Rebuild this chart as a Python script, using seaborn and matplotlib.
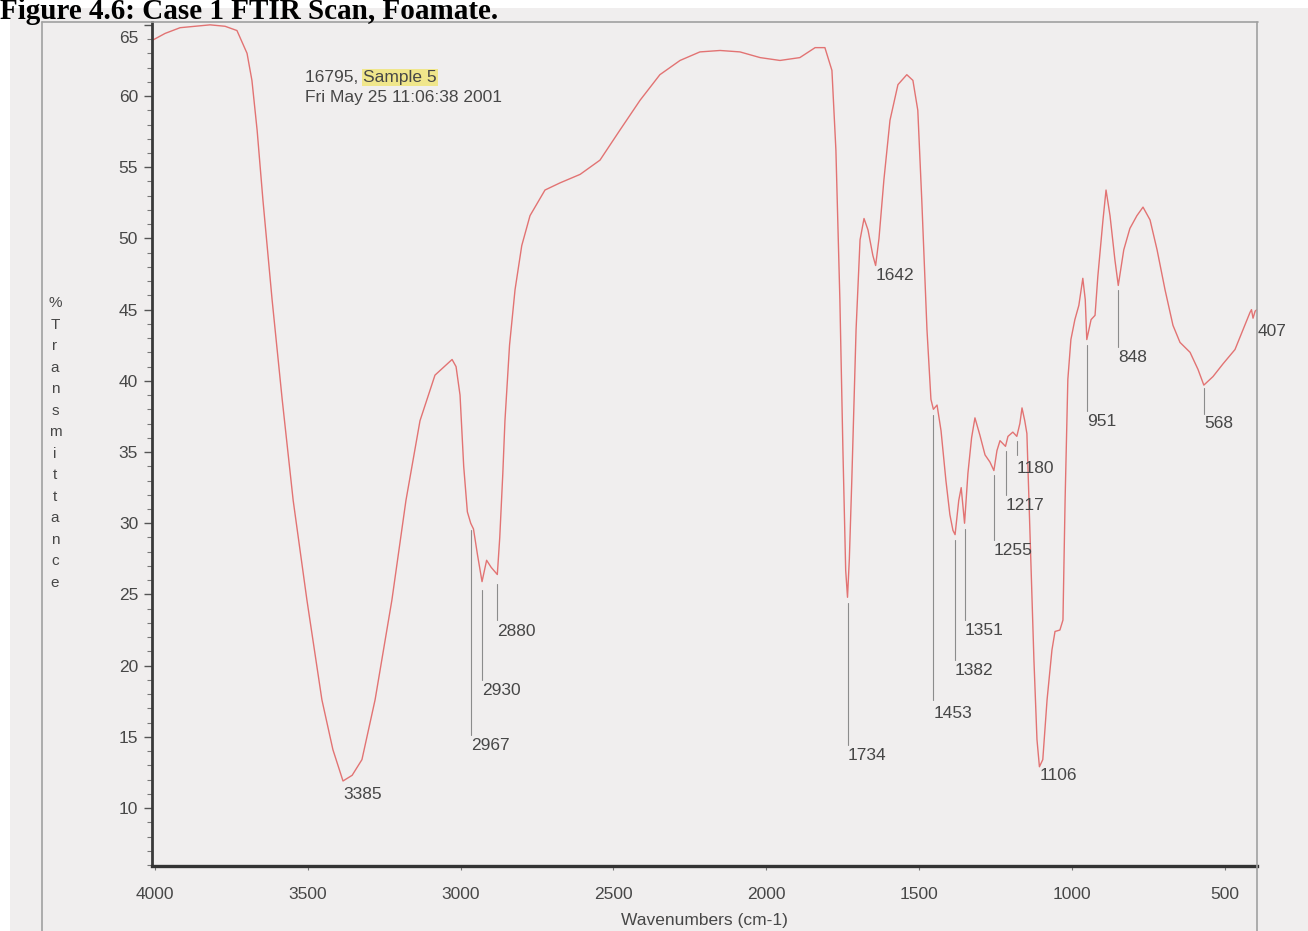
import matplotlib
matplotlib.use("Agg")
import matplotlib.pyplot as plt
from matplotlib.lines import Line2D
from matplotlib.patches import Rectangle
from matplotlib.ticker import MultipleLocator, FixedLocator
from matplotlib.transforms import ScaledTranslation
import seaborn as sns
import pandas as pd

# ---------------- data ----------------
wavenumber = [4010, 3967, 3918, 3869, 3820, 3771, 3732, 3699, 3683, 3666,
              3647, 3617, 3584, 3548, 3503, 3454, 3418, 3385, 3355, 3323,
              3280, 3225, 3179, 3133, 3084, 3028, 3015, 3002, 2990, 2978,
              2967, 2958, 2945, 2930, 2915, 2900, 2880, 2872, 2862, 2855,
              2840, 2822, 2800, 2773, 2724, 2675, 2609, 2544, 2479, 2413,
              2348, 2282, 2217, 2151, 2086, 2020, 1955, 1890, 1840, 1808,
              1785, 1772, 1759, 1749, 1740, 1734, 1728, 1720, 1706, 1693,
              1680, 1667, 1651, 1642, 1631, 1615, 1595, 1569, 1540, 1520,
              1504, 1491, 1474, 1461, 1453, 1441, 1428, 1412, 1399, 1389,
              1382, 1370, 1362, 1351, 1340, 1328, 1317, 1301, 1284, 1268,
              1255, 1245, 1235, 1217, 1209, 1193, 1180, 1170, 1163, 1154,
              1147, 1137, 1124, 1114, 1106, 1095, 1081, 1065, 1055, 1039,
              1029, 1022, 1013, 1003, 990, 977, 964, 956, 951, 937,
              924, 915, 898, 888, 875, 859, 848, 830, 810, 787,
              767, 744, 721, 695, 669, 646, 613, 587, 568, 538,
              505, 466, 434, 417, 412, 407, 400, 394]
transmittance = [63.9, 64.4, 64.8, 64.9, 65.0, 64.9, 64.6, 63.0, 61.1, 57.6,
                 52.7, 45.7, 38.7, 31.6, 24.6, 17.6, 14.1, 11.9, 12.3, 13.4,
                 17.6, 24.6, 31.6, 37.2, 40.4, 41.5, 41.0, 39.0, 34.0, 30.8,
                 30.0, 29.6, 27.8, 25.9, 27.4, 26.9, 26.4, 29.0, 33.5, 37.2,
                 42.5, 46.4, 49.5, 51.6, 53.4, 53.9, 54.5, 55.5, 57.6, 59.7,
                 61.5, 62.5, 63.1, 63.2, 63.1, 62.7, 62.5, 62.7, 63.4, 63.4,
                 61.8, 56.2, 45.7, 35.1, 26.7, 24.8, 27.5, 33.0, 43.6, 49.9,
                 51.4, 50.6, 48.8, 48.1, 50.0, 54.1, 58.3, 60.8, 61.5, 61.1,
                 59.0, 52.7, 43.6, 38.7, 38.0, 38.3, 36.5, 33.0, 30.6, 29.5,
                 29.2, 31.6, 32.5, 30.0, 33.5, 36.0, 37.4, 36.2, 34.8, 34.3,
                 33.7, 35.1, 35.8, 35.4, 36.1, 36.4, 36.1, 37.0, 38.1, 37.2,
                 36.3, 29.3, 20.4, 14.8, 12.9, 13.4, 17.6, 21.1, 22.4, 22.5,
                 23.2, 31.6, 40.1, 42.9, 44.3, 45.3, 47.2, 45.7, 42.9, 44.3,
                 44.6, 47.3, 51.3, 53.4, 51.6, 48.5, 46.7, 49.2, 50.7, 51.6,
                 52.2, 51.3, 49.2, 46.4, 43.9, 42.7, 42.0, 40.8, 39.7, 40.3,
                 41.2, 42.2, 43.9, 44.8, 45.0, 44.4, 44.9, 45.0]

peak_positions = [3385, 2967, 2930, 2880, 1734, 1642, 1453, 1382, 1351,
                  1255, 1217, 1180, 1106, 951, 848, 568, 407]
peak_labels = [str(p) for p in peak_positions]

x_ticks = [4000, 3500, 3000, 2500, 2000, 1500, 1000, 500]
y_ticks = [10, 15, 20, 25, 30, 35, 40, 45, 50, 55, 60, 65]

title_text = "Figure 4.6: Case 1 FTIR Scan, Foamate."
header_id = "16795, "
header_sample = "Sample 5"
header_date = "Fri May 25 11:06:38 2001"
x_label = "Wavenumbers (cm-1)"
y_label = "%Transmittance"

# label layout: (peak, line top, line bottom, text top) in %T; None = no leader line
label_layout = {
    3385: (None, None, 11.5),
    2967: (29.5, 15.1, 14.9),
    2930: (25.3, 19.0, 18.8),
    2880: (25.7, 23.2, 22.9),
    1734: (24.4, 14.4, 14.2),
    1642: (None, None, 47.9),
    1453: (37.6, 17.6, 17.2),
    1382: (28.8, 20.4, 20.2),
    1351: (29.6, 23.2, 23.0),
    1255: (33.4, 28.8, 28.6),
    1217: (35.1, 32.0, 31.8),
    1180: (35.8, 34.8, 34.4),
    1106: (None, None, 12.8),
    951: (42.5, 37.9, 37.7),
    848: (46.4, 42.4, 42.2),
    568: (39.5, 37.7, 37.5),
}

# ---------------- style ----------------
W, H = 1308, 931
sns.set_style("white")
plt.rcParams["font.family"] = ["Liberation Sans", "DejaVu Sans"]

paper = "#f0eeee"
ink = "#474747"
frame_col = "#a0a0a0"
curve_col = "#e27373"

fig = plt.figure(figsize=(W / 100, H / 100), dpi=100, facecolor="white")
fig.add_artist(Rectangle((10 / W, 0), 1 - 10 / W, 1 - 8 / H, transform=fig.transFigure,
                         facecolor=paper, edgecolor="none", zorder=-10))

ax = fig.add_axes([152 / W, 1 - 866 / H, (1257 - 152) / W, (866 - 22) / H])
ax.set_facecolor("none")

df = pd.DataFrame({"wavenumber": wavenumber, "transmittance": transmittance})
sns.lineplot(data=df, x="wavenumber", y="transmittance", sort=False, ax=ax,
             color=curve_col, linewidth=1.0, estimator=None)

ax.set_xlim(4010, 394)
ax.set_ylim(5.93, 65.2)
ax.set_xlabel("")
ax.set_ylabel("")

ax.xaxis.set_major_locator(FixedLocator(x_ticks))
ax.yaxis.set_major_locator(FixedLocator(y_ticks))
ax.yaxis.set_minor_locator(MultipleLocator(1))
ax.tick_params(axis="y", which="major", direction="out", length=6, width=1.0,
               color="#555555", labelsize=12.5, labelcolor=ink, pad=4, left=True)
ax.tick_params(axis="y", which="minor", direction="out", length=3.5, width=0.8,
               color="#777777", left=True)
ax.tick_params(axis="x", which="major", direction="out", length=3, width=0.8,
               color="#777777", labelsize=12.5, labelcolor=ink, pad=12, bottom=True)

for s in ["top", "right"]:
    ax.spines[s].set_visible(False)
ax.spines["left"].set_color("#3a3a3a")
ax.spines["left"].set_linewidth(2.0)
ax.spines["bottom"].set_color("#333333")
ax.spines["bottom"].set_linewidth(2.4)

# the top tick label sits a little lower in the scanned source
top_tick = ax.yaxis.get_major_ticks()[len(y_ticks) - 1]
top_tick.label1.set_transform(top_tick.label1.get_transform() +
                              ScaledTranslation(0, -9 / 72, fig.dpi_scale_trans))

# outer frame of the scanned chart
fig.add_artist(Line2D([42 / W, 1258 / W], [1 - 22 / H, 1 - 22 / H], color=frame_col, lw=1.2))
fig.add_artist(Line2D([42 / W, 42 / W], [1 - 22 / H, 0], color=frame_col, lw=1.2))
fig.add_artist(Line2D([1257 / W, 1257 / W], [1 - 22 / H, 0], color=frame_col, lw=1.2))

# peak labels
lab_fs = 12.5
for p, lab in zip(peak_positions, peak_labels):
    if p == 407:
        ax.text(p - 16, 43.5, lab, ha="left", va="center", fontsize=lab_fs,
                color=ink, clip_on=False)
        continue
    top, bot, ttop = label_layout[p]
    if top is not None:
        ax.plot([p, p], [top, bot], color="#8c8c8c", lw=0.8, zorder=1)
    ax.text(p, ttop, lab, ha="left", va="top", fontsize=lab_fs, color=ink)

# header text
t1 = ax.text(3509, 61.3, header_id, ha="left", va="center", fontsize=12.5, color=ink)
ax.annotate(header_sample, xy=(1, 0), xycoords=t1, ha="left", va="bottom",
            fontsize=12.5, color=ink,
            bbox=dict(boxstyle="square,pad=0.05", facecolor="#f1e46a", edgecolor="none", alpha=0.75))
ax.text(3509, 59.9, header_date, ha="left", va="center", fontsize=12.5, color=ink)

# axis labels
fig.text(704 / W, 1 - 921 / H, x_label, ha="center", va="center", fontsize=12.5, color=ink)
fig.text(55 / W, 1 - 443 / H, "\n".join(list(y_label)), ha="center", va="center",
         fontsize=11, color=ink, linespacing=1.68)

# title at the top of the page
fig.text(0.0, 1 - 19 / H, title_text, ha="left", va="baseline", fontsize=21,
         fontweight="bold", family=["Liberation Serif", "DejaVu Serif"], color="black")

fig.savefig("out.png", dpi=100, facecolor="white")
